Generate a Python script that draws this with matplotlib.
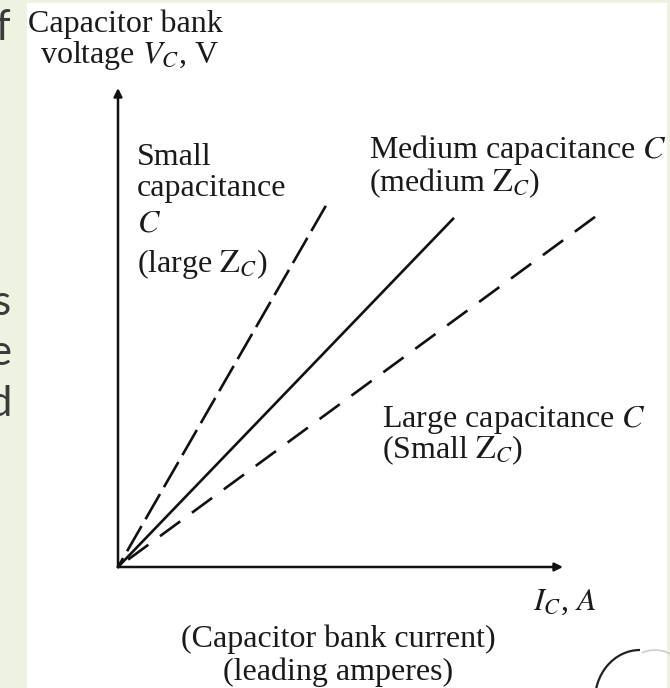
import numpy as np
import matplotlib.pyplot as plt
from matplotlib.patches import Rectangle, Arc

plt.rcParams['font.family'] = ['Liberation Serif', 'DejaVu Serif']
plt.rcParams['mathtext.fontset'] = 'stix'

# V-I lines of the capacitor bank (arbitrary units, V = I * Z_C)
line_names = ['small', 'medium', 'large']
I_end = [4.67, 7.53, 10.72]
V_end = [7.54, 7.27, 7.31]
x_axis_max = 10.0
y_axis_max = 10.0

# line look for each capacitance
dash_style = {'small': (11, 3), 'medium': None, 'large': (9.5, 5.5)}

W, H = 670, 688
fig = plt.figure(figsize=(W / 100, H / 100), dpi=100)
fig.patch.set_facecolor('#eef2e1')

# white panel of the pasted figure
fig.patches.append(Rectangle((27 / W, 0), (667 - 27) / W, 1 - 3 / H,
                             transform=fig.transFigure, facecolor='white',
                             edgecolor='none', zorder=-5))

def fx(px):
    return px / W

def fy(py):
    return 1 - py / H

# axes mapped so that the origin sits at pixel (118, 567)
ax = fig.add_axes([0, 0, 1, 1])
ax.set_zorder(3)
ax.patch.set_alpha(0)
sx, sy = 44.5, 47.9
ax.set_xlim(-118 / sx, (W - 118) / sx)
ax.set_ylim(-(H - 567) / sy, 567 / sy)
ax.axis('off')

# coordinate axes with arrows
arrow = dict(arrowstyle='-|>', color='#111111', lw=1.8, mutation_scale=12,
             shrinkA=0, shrinkB=0)
ax.annotate('', xy=(0, y_axis_max), xytext=(0, 0), arrowprops=arrow)
ax.annotate('', xy=(x_axis_max, 0), xytext=(0, 0), arrowprops=arrow)

for name, i_end, v_end in zip(line_names, I_end, V_end):
    d = dash_style[name]
    # drawn from the far end so the dash pattern starts there
    if d:
        ax.plot([i_end, 0], [v_end, 0], color='#111111', lw=1.9,
                dashes=d, dash_capstyle='butt')
    else:
        ax.plot([i_end, 0], [v_end, 0], color='#111111', lw=1.9)

fs = 23
tc = '#1a1a1a'
fig.text(fx(28), fy(32), 'Capacitor bank', fontsize=fs, color=tc)
fig.text(fx(40), fy(63), 'voltage $V_C$, V', fontsize=fs, color=tc)

fig.text(fx(137), fy(165), 'Small', fontsize=fs, color=tc)
fig.text(fx(137), fy(196), 'capacitance', fontsize=fs, color=tc)
fig.text(fx(137), fy(232), '$C$', fontsize=fs, color=tc)
fig.text(fx(137), fy(272), r'(large $\mathrm{Z}_C$)', fontsize=fs, color=tc)

fig.text(fx(369), fy(158), 'Medium capacitance $C$', fontsize=fs, color=tc)
fig.text(fx(369), fy(191), r'(medium $\mathrm{Z}_C$)', fontsize=fs, color=tc)

fig.text(fx(382), fy(427), 'Large capacitance $C$', fontsize=fs, color=tc)
fig.text(fx(382), fy(458), r'(Small $\mathrm{Z}_C$)', fontsize=fs, color=tc)

fig.text(fx(533), fy(610), '$I_C$, $A$', fontsize=fs, color=tc)
fig.text(fx(338), fy(647), '(Capacitor bank current)', fontsize=fs,
         color=tc, ha='center')
fig.text(fx(338), fy(680), '(leading amperes)', fontsize=fs,
         color=tc, ha='center')

# cropped slide text on the left edge
for ch, py in zip(['f', 's', 'e', 'd'], [40, 315, 365, 416]):
    fig.text(fx(11), fy(py), ch, fontsize=30, color='#3a3a3a',
             ha='right', family=['Lato', 'DejaVu Sans'])

# part of a cloud shape at the bottom right
fig.patches.append(Arc((fx(640), fy(700)), 90 / W, 100 / H, theta1=90, theta2=185,
                       transform=fig.transFigure, color='#222222', lw=1.6))
fig.patches.append(Arc((fx(655), fy(690)), 70 / W, 80 / H, theta1=40, theta2=110,
                       transform=fig.transFigure, color='#cccccc', lw=1.2))

fig.savefig('out.png', dpi=100, facecolor=fig.get_facecolor())
